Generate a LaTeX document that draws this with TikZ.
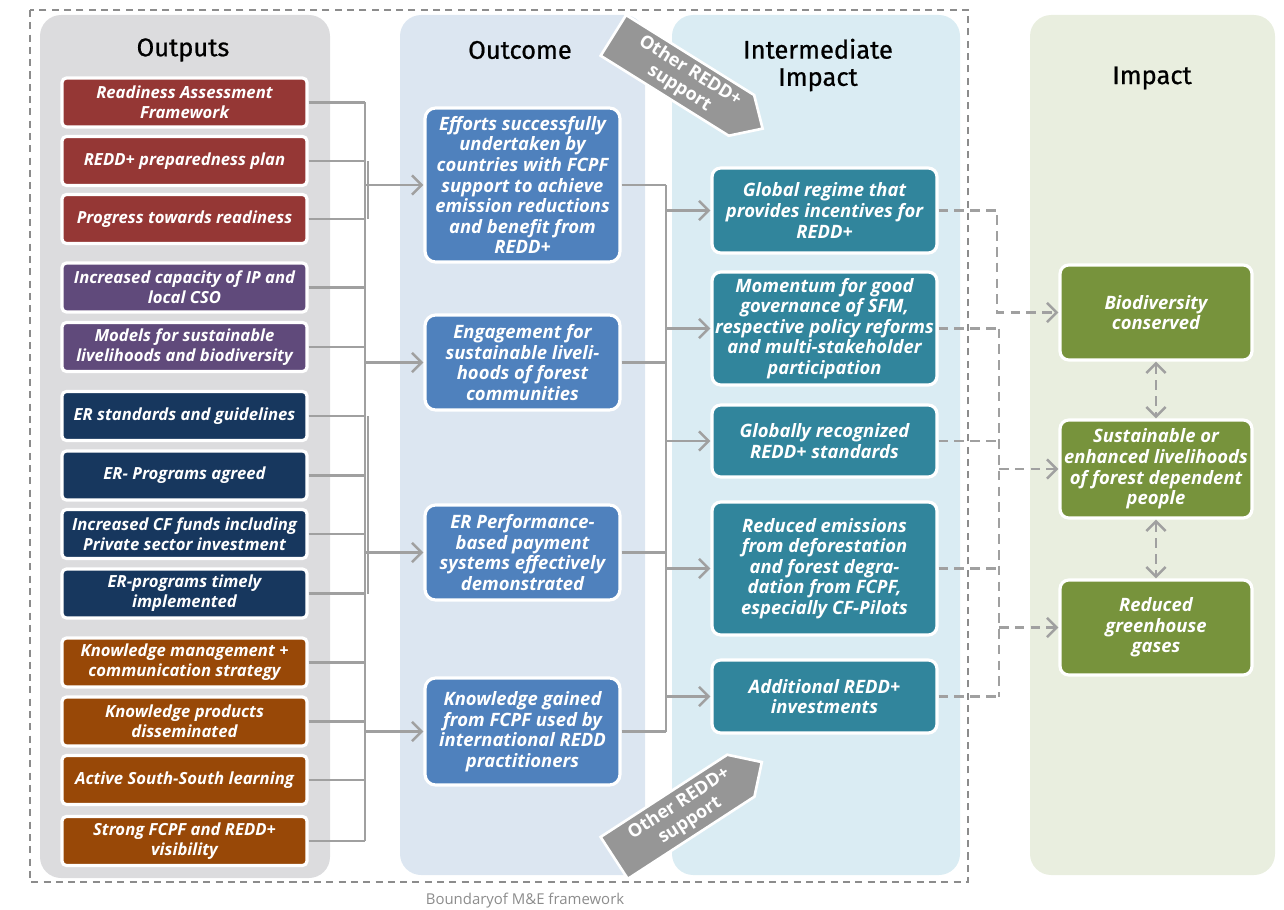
\documentclass[tikz,border=0pt]{standalone}
\usepackage{fontspec}
\setmainfont{Open Sans}
\newfontfamily\headfont[FakeBold=0.7]{Fira Sans}
\usetikzlibrary{arrows.meta}

\definecolor{panOut}{HTML}{DCDCDE}
\definecolor{panOc}{HTML}{DCE6F1}
\definecolor{panInt}{HTML}{DAECF3}
\definecolor{panImp}{HTML}{E9EEDF}
\definecolor{cRed}{HTML}{953735}
\definecolor{cPurple}{HTML}{604A7B}
\definecolor{cNavy}{HTML}{17375E}
\definecolor{cBrown}{HTML}{984807}
\definecolor{cBlue}{HTML}{4F81BD}
\definecolor{cTeal}{HTML}{31859C}
\definecolor{cGreen}{HTML}{77933C}
\definecolor{cLine}{HTML}{A0A0A0}
\definecolor{cBig}{HTML}{969696}
\definecolor{cBound}{HTML}{8C8C8C}

\tikzset{
  panel/.style={fill=#1, draw=none, rounded corners=12pt},
  boxbase/.style={draw=white, line width=1.8pt, text=white, align=center,
     font=\fontsize{10.5}{11.7}\selectfont\bfseries\itshape, inner sep=1pt},
  outbox/.style={boxbase, font=\fontsize{9.5}{11.4}\selectfont\bfseries\itshape,
     fill=#1, rounded corners=2.5pt, minimum width=4.9cm, minimum height=0.98cm},
  ocbox/.style={boxbase, fill=cBlue, rounded corners=6pt, minimum width=3.9cm},
  intbox/.style={boxbase, fill=cTeal, rounded corners=5pt, minimum width=4.5cm},
  impbox/.style={boxbase, fill=cGreen, rounded corners=5pt, minimum width=3.84cm},
  paneltitle/.style={font=\headfont\fontsize{14.5}{15.5}\selectfont, align=center},
  conn/.style={draw=cLine, line width=1.4pt},
  tip/.style={-{Straight Barb[length=5.5pt,width=11pt]}},
  arr/.style={conn, tip},
  dconn/.style={conn, dash pattern=on 5.5pt off 3.5pt},
  darr/.style={dconn, tip},
  ddarr/.style={dconn, {Straight Barb[length=5.5pt,width=11pt]}-{Straight Barb[length=5.5pt,width=11pt]}},
  bigarrow/.style={fill=cBig, draw=white, line width=1.5pt, line join=miter},
  bigtext/.style={text=white, font=\fontsize{10.3}{11.5}\selectfont\bfseries, align=center, inner sep=0pt}
}

\begin{document}
\begin{tikzpicture}[x=0.02cm, y=-0.02cm]
\useasboundingbox (0,0) rectangle (1284,909);

% column backgrounds
\path[panel=panOut] (40,15) rectangle (330,878);
\path[panel=panOc]  (400,15) rectangle (645,875);
\path[panel=panInt] (672,15) rectangle (960,875);
\path[panel=panImp] (1030,15) rectangle (1275,875);

% boundary of the M&E framework
\draw[cBound, line width=0.8pt, dash pattern=on 4pt off 3pt] (30,10) rectangle (968,882);
\node[text=cBound, font=\fontsize{8.5}{10}\selectfont] (cap) at (525,901) {Boundaryof M\&E  framework};

% column titles
\node[paneltitle] (tOut) at (183,50) {Outputs};
\node[paneltitle] (tOc) at (520,50) {Outcome};
\node[paneltitle] (tInt) at (818,65) {Intermediate\\Impact};
\node[paneltitle] (tImp) at (1152,78) {Impact};

% bus coordinates
\coordinate (busL) at (365,0);
\coordinate (busM) at (666,0);
\coordinate (busR) at (997,0);
\coordinate (busS) at (999,0);

% outputs
\node[outbox=cRed]    (o1)  at (184.5,102.5) {Readiness Assessment\\Framework};
\node[outbox=cRed]    (o2)  at (184.5,161)   {REDD+ preparedness plan};
\node[outbox=cRed]    (o3)  at (184.5,219)   {Progress towards readiness};
\node[outbox=cPurple] (o4)  at (184.5,287.5) {Increased capacity of IP and\\local CSO};
\node[outbox=cPurple] (o5)  at (184.5,347)   {Models for sustainable\\livelihoods  and biodiversity};
\node[outbox=cNavy]   (o6)  at (184.5,416)   {ER standards and guidelines};
\node[outbox=cNavy]   (o7)  at (184.5,475.5) {ER- Programs agreed};
\node[outbox=cNavy]   (o8)  at (184.5,534)   {Increased CF funds including\\Private sector  investment};
\node[outbox=cNavy]   (o9)  at (184.5,593.5) {ER-programs  timely\\implemented};
\node[outbox=cBrown]  (o10) at (184.5,662.5) {Knowledge management +\\communication strategy};
\node[outbox=cBrown]  (o11) at (184.5,721.5) {Knowledge products\\disseminated};
\node[outbox=cBrown]  (o12) at (184.5,780)   {Active South-South learning};
\node[outbox=cBrown]  (o13) at (184.5,841)   {Strong FCPF and REDD+\\visibility};

% outcomes
\node[ocbox, minimum height=3.08cm] (oc1) at (522.5,185)
  {Efforts successfully\\undertaken by\\countries with FCPF\\support to achieve\\emission reductions\\and  benefit from\\REDD+};
\node[ocbox, minimum height=1.9cm] (oc2) at (522.5,362.5)
  {Engagement for\\sustainable liveli-\\hoods of forest\\communities};
\node[ocbox, minimum height=1.9cm] (oc3) at (522.5,552.5)
  {ER Performance-\\based payment\\systems effectively\\demonstrated};
\node[ocbox, minimum height=2.14cm] (oc4) at (522.5,731.5)
  {Knowledge  gained\\from FCPF used by\\international REDD\\practitioners};

% intermediate impacts
\node[intbox, minimum height=1.7cm]  (i1) at (824.5,210.5)
  {Global regime that\\provides incentives for\\REDD+};
\node[intbox, minimum height=2.26cm] (i2) at (824.5,328.5)
  {Momentum for good\\governance of  SFM,\\respective policy reforms\\and multi-stakeholder\\participation};
\node[intbox, minimum height=1.44cm] (i3) at (824.5,441)
  {Globally recognized\\REDD+ standards};
\node[intbox, minimum height=2.66cm] (i4) at (824.5,568.5)
  {Reduced emissions\\from deforestation\\and forest degra-\\dation  from FCPF,\\especially  CF-Pilots};
\node[intbox, minimum height=1.46cm] (i5) at (824.5,696.5)
  {Additional REDD+\\investments};

% impacts
\node[impbox, minimum height=1.9cm]  (m1) at (1156,312.5) {Biodiversity\\conserved};
\node[impbox, minimum height=1.96cm] (m2) at (1156,469)
  {Sustainable or\\enhanced livelihoods\\of forest dependent\\people};
\node[impbox, minimum height=1.9cm]  (m3) at (1156,627.5) {Reduced\\greenhouse\\gases};

% outputs -> outcomes
\foreach \n in {1,...,13} \draw[conn] (o\n.east) -- (o\n.east -| busL);
\draw[conn] (o1.east -| busL) -- (o13.east -| busL);
\draw[conn] ([xshift=1.6pt]o2.east -| busL) -- ([xshift=1.6pt]o3.east -| busL);
\draw[conn] ([xshift=1.6pt]o6.east -| busL) -- ([xshift=1.6pt]o9.east -| busL);
\foreach \n in {1,...,4} \draw[arr] (busL |- oc\n.west) -- (oc\n.west);

% outcomes -> intermediate impacts
\foreach \n in {1,...,4} \draw[conn] (oc\n.east) -- (oc\n.east -| busM);
\draw[conn] (oc1.east -| busM) -- (oc4.east -| busM);
\foreach \n in {1,...,5} \draw[arr] (busM |- i\n.west) -- (i\n.west);

% intermediate impacts -> impacts
\draw[darr] (i1.east) -- (i1.east -| busR) |- (m1.west);
\foreach \n in {2,...,5} \draw[dconn] (i\n.east) -- (i\n.east -| busS);
\draw[dconn] (i2.east -| busS) -- (i5.east -| busS);
\draw[darr] (busS |- m2.west) -- (m2.west);
\draw[darr] (busS |- m3.west) -- (m3.west);

% links between impacts
\draw[ddarr] (m1.south) -- (m2.north);
\draw[ddarr] (m2.south) -- (m3.north);

% other support entering from outside
\begin{scope}[shift={(688,82)}, rotate=-32]
  \path[bigarrow] (-88,-24) -- (63,-24) -- (88,0) -- (63,24) -- (-88,24) -- cycle;
  \node[bigtext, rotate=-32] (sup1) at (-4,0) {Other REDD+\\support};
\end{scope}
\begin{scope}[shift={(688,810)}, rotate=33]
  \path[bigarrow] (-88,-25) -- (63,-25) -- (88,0) -- (63,25) -- (-88,25) -- cycle;
  \node[bigtext, rotate=33] (sup2) at (-4,0) {Other REDD+\\support};
\end{scope}
\end{tikzpicture}
\end{document}
